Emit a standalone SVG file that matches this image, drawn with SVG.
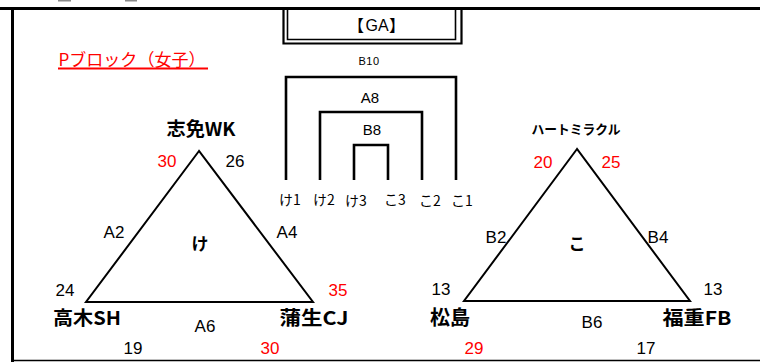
<svg xmlns="http://www.w3.org/2000/svg" width="760" height="362" viewBox="0 0 760 362">
<style>
.t{font-family:"Liberation Sans","Noto Sans CJK JP",sans-serif;text-anchor:middle;fill:#000}
.j{font-family:"Noto Sans CJK JP","Liberation Sans",sans-serif;text-anchor:middle;fill:#000}
.b{font-weight:bold}
.r{fill:#ff0000}
.n{font-size:17px}
.tri{fill:none;stroke:#000;stroke-width:2;stroke-linejoin:miter}
.br{fill:none;stroke:#000;stroke-width:2.6}
</style>
<rect width="760" height="362" fill="#fff"/>
<g id="frame">
<rect x="58" y="0" width="13" height="1.5" fill="#8a8a8a"/>
<rect x="125" y="0" width="12" height="1.5" fill="#8a8a8a"/>
<line x1="0" y1="8.5" x2="760" y2="8.5" stroke="#000" stroke-width="3"/>
<line x1="12.5" y1="8" x2="12.5" y2="362" stroke="#000" stroke-width="3"/>
<line x1="12" y1="360.5" x2="760" y2="360.5" stroke="#000" stroke-width="1.5"/>
</g>
<g id="title">
<text class="j" x="132" y="66" font-size="17" fill="#ff0000" style="fill:#ff0000" textLength="147" lengthAdjust="spacingAndGlyphs">Pブロック（女子）</text>
<line x1="58" y1="68.5" x2="208" y2="68.5" stroke="#ff0000" stroke-width="2"/>
</g>
<g id="ga">
<path d="M283.5 10 V43.5 H461.5 V10" fill="none" stroke="#000" stroke-width="2.2"/>
<path d="M287.5 10 V39.5 H455.5 V10" fill="none" stroke="#000" stroke-width="1.6"/>
<text font-family="Noto Sans CJK JP, Liberation Sans, sans-serif" font-size="16" y="30.5" fill="#000"><tspan x="348">【</tspan><tspan x="365.5" font-family="Liberation Sans, sans-serif">GA</tspan><tspan x="389">】</tspan></text>
</g>
<g id="connectors">
<path class="br" d="M286 180 V77 H456 V180"/>
<path class="br" d="M320 180 V112 H422 V180"/>
<path class="br" d="M354 180 V145 H388 V180"/>
<text class="t" x="369" y="65" font-size="11" letter-spacing="0.5">B10</text>
<text class="t" x="370" y="103" font-size="15">A8</text>
<text class="t" x="372" y="135" font-size="15">B8</text>
</g>
<g id="slots">
<text class="j" x="290" y="205" font-size="14">け1</text>
<text class="j" x="324" y="205" font-size="14">け2</text>
<text class="j" x="356" y="206" font-size="14">け3</text>
<text class="j" x="395" y="205" font-size="14">こ3</text>
<text class="j" x="430" y="206" font-size="14">こ2</text>
<text class="j" x="462" y="206" font-size="14">こ1</text>
</g>
<g id="group-ke">
<polygon class="tri" points="199,151 86,302 313,302"/>
<text class="j b" x="201" y="136" font-size="19" textLength="69" lengthAdjust="spacingAndGlyphs">志免WK</text>
<text class="t n r" x="167" y="167">30</text>
<text class="t n" x="235" y="167">26</text>
<text class="t n" x="114" y="238">A2</text>
<text class="j b" x="200" y="250" font-size="17">け</text>
<text class="t n" x="287" y="238">A4</text>
<text class="t n" x="65" y="296">24</text>
<text class="t n r" x="338" y="296">35</text>
<text class="j b" x="87" y="325" font-size="19" textLength="68" lengthAdjust="spacingAndGlyphs">高木SH</text>
<text class="j b" x="314" y="325" font-size="19" textLength="69" lengthAdjust="spacingAndGlyphs">蒲生CJ</text>
<text class="t n" x="205" y="332">A6</text>
<text class="t n" x="133" y="354">19</text>
<text class="t n r" x="270" y="354">30</text>
</g>
<g id="group-ko">
<polygon class="tri" points="577,149 464,301 690,301"/>
<text class="j b" x="576" y="134" font-size="13" textLength="89" lengthAdjust="spacingAndGlyphs">ハートミラクル</text>
<text class="t n r" x="543" y="168">20</text>
<text class="t n r" x="611" y="168">25</text>
<text class="t n" x="496" y="243">B2</text>
<text class="j b" x="577" y="250" font-size="17">こ</text>
<text class="t n" x="658" y="243">B4</text>
<text class="t n" x="441" y="295">13</text>
<text class="t n" x="713" y="295">13</text>
<text class="j b" x="450" y="325" font-size="20">松島</text>
<text class="j b" x="697" y="325" font-size="19" textLength="69" lengthAdjust="spacingAndGlyphs">福重FB</text>
<text class="t n" x="592" y="328">B6</text>
<text class="t n r" x="474" y="354">29</text>
<text class="t n" x="646" y="354">17</text>
</g>
</svg>
